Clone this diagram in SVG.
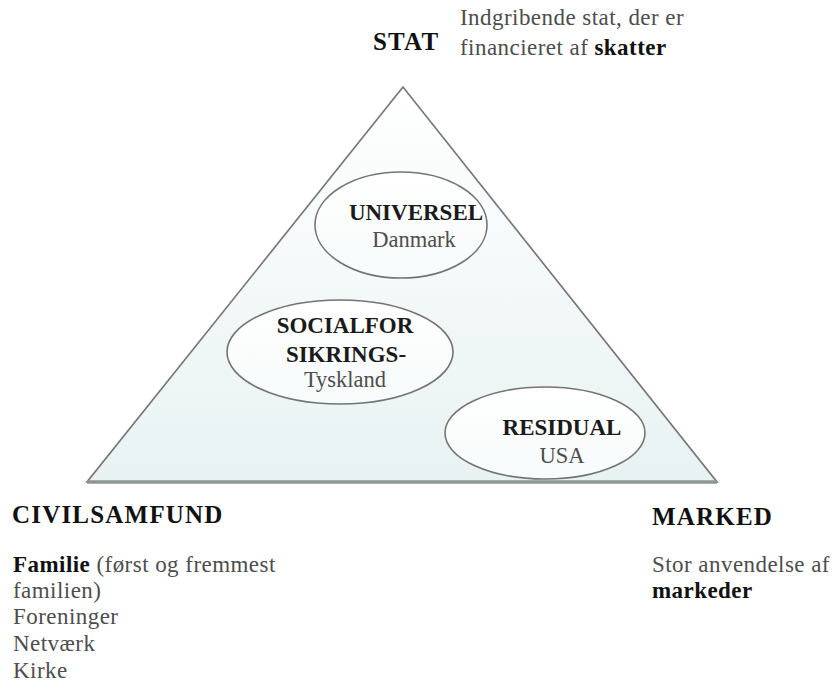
<svg xmlns="http://www.w3.org/2000/svg" width="838" height="691" viewBox="0 0 838 691">
<style>
.t{font-family:"Liberation Serif","Times New Roman",serif;font-size:25px;fill:#111;font-weight:bold;letter-spacing:1.2px}
.r{font-family:"Liberation Serif","Times New Roman",serif;font-size:23px;fill:#4d4d4d;letter-spacing:0.45px}
.b{font-weight:bold;fill:#111}
.el{fill:url(#eg);stroke:#747474;stroke-width:1.6}
.lab{font-family:"Liberation Serif","Times New Roman",serif;font-size:23px;font-weight:bold;fill:#1a1a1a;text-anchor:middle}
.sub{font-family:"Liberation Serif","Times New Roman",serif;font-size:22.5px;fill:#4d4d4d;text-anchor:middle}
</style>
<defs>
<linearGradient id="tg" x1="0" y1="0" x2="0" y2="1">
<stop offset="0" stop-color="#ffffff"/>
<stop offset="1" stop-color="#e8f2f2"/>
</linearGradient>
<linearGradient id="eg" x1="0" y1="0" x2="0" y2="1">
<stop offset="0" stop-color="#ffffff"/>
<stop offset="1" stop-color="#f7fbfb"/>
</linearGradient>
</defs>
<rect width="838" height="691" fill="#ffffff"/>
<g id="triangle">
<polygon points="403,87 87,482 717,482" fill="url(#tg)" stroke="#787878" stroke-width="1.7"/>
<line x1="87" y1="482" x2="717" y2="482" stroke="#8c9696" stroke-width="3.5"/>
</g>
<g id="connectors"></g>
<g id="universel">
<ellipse class="el" cx="401" cy="225" rx="86" ry="53"/>
<text class="lab" x="416" y="220">UNIVERSEL</text>
<text class="sub" x="414" y="247">Danmark</text>
</g>
<g id="social">
<ellipse class="el" cx="340" cy="352" rx="113" ry="52"/>
<text class="lab" x="345" y="333">SOCIALFOR</text>
<text class="lab" x="346" y="362">SIKRINGS-</text>
<text class="sub" x="345" y="387">Tyskland</text>
</g>
<g id="residual">
<ellipse class="el" cx="545" cy="433" rx="100" ry="46"/>
<text class="lab" x="562" y="435">RESIDUAL</text>
<text class="sub" x="562" y="463">USA</text>
</g>
<g id="stat">
<text class="t" x="373" y="50">STAT</text>
<text class="r" x="460" y="25">Indgribende stat, der er</text>
<text class="r" x="460" y="55">financieret af <tspan class="b">skatter</tspan></text>
</g>
<g id="civilsamfund">
<text class="t" x="12" y="523">CIVILSAMFUND</text>
<text class="r" x="13" y="572"><tspan class="b">Familie</tspan> (først og fremmest</text>
<text class="r" x="13" y="598">familien)</text>
<text class="r" x="13" y="624">Foreninger</text>
<text class="r" x="13" y="651">Netværk</text>
<text class="r" x="13" y="678">Kirke</text>
</g>
<g id="marked">
<text class="t" x="652" y="525">MARKED</text>
<text class="r" x="652" y="572">Stor anvendelse af</text>
<text class="r" x="652" y="598"><tspan class="b">markeder</tspan></text>
</g>
</svg>
